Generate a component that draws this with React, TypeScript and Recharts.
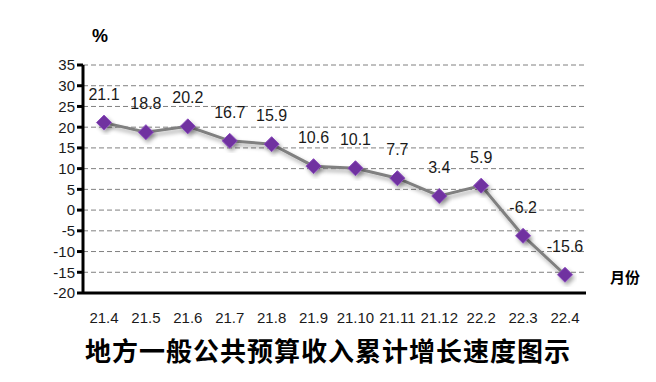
import { LineChart, Line, XAxis, YAxis, CartesianGrid, LabelList } from 'recharts'

const months = ['21.4', '21.5', '21.6', '21.7', '21.8', '21.9', '21.10', '21.11', '21.12', '22.2', '22.3', '22.4']
const growth = [21.1, 18.8, 20.2, 16.7, 15.9, 10.6, 10.1, 7.7, 3.4, 5.9, -6.2, -15.6]
const yTicks = [-20, -15, -10, -5, 0, 5, 10, 15, 20, 25, 30, 35]

const data = months.map((m, i) => ({ month: m, value: growth[i] }))

const FONT = '"Liberation Sans", Arial, sans-serif'

// purple diamond marker
const Diamond = (props: any) => {
  const { cx, cy } = props
  if (cx == null || cy == null) return null
  const r = 7.5
  return (
    <polygon
      key={`d-${cx}`}
      points={`${cx},${cy - r} ${cx + r},${cy} ${cx},${cy + r} ${cx - r},${cy}`}
      fill="#7030A0"
      stroke="#8a4cbc"
      strokeWidth={1}
      filter="url(#shadow)"
    />
  )
}

export default function App() {
  return (
    <div style={{ position: 'fixed', left: 0, top: 0, width: 656, height: 382, background: '#fff' }}>
      <LineChart width={656} height={382} data={data} margin={{ top: 65, right: 70, bottom: 59, left: 0 }}>
        <defs>
          <filter id="shadow" x="-30%" y="-30%" width="160%" height="160%">
            <feDropShadow dx="2" dy="3" stdDeviation="2" floodColor="#000" floodOpacity="0.35" />
          </filter>
        </defs>
        <CartesianGrid vertical={false} stroke="#808080" strokeDasharray="5 3" />
        <XAxis
          dataKey="month"
          height={30}
          padding={{ left: 21, right: 21 }}
          axisLine={{ stroke: '#000', strokeWidth: 3 }}
          tickLine={false}
          tick={{ fill: '#1a1a1a', fontSize: 15, fontFamily: FONT }}
          tickMargin={13}
          interval={0}
        />
        <YAxis
          width={83}
          domain={[-20, 35]}
          ticks={yTicks}
          interval={0}
          axisLine={{ stroke: '#000', strokeWidth: 3 }}
          tickLine={{ stroke: '#000', strokeWidth: 3 }}
          tickSize={6}
          tick={{ fill: '#1a1a1a', fontSize: 15, fontFamily: FONT }}
        />
        <Line
          type="linear"
          dataKey="value"
          stroke="#808080"
          strokeWidth={3}
          dot={<Diamond />}
          activeDot={false}
          filter="url(#shadow)"
          isAnimationActive={false}
        >
          <LabelList
            dataKey="value"
            position="top"
            offset={23}
            style={{ fill: '#1a1a1a', fontSize: 16, fontFamily: FONT }}
          />
        </Line>
      </LineChart>
      <div
        style={{
          position: 'absolute',
          left: 92,
          top: 26,
          fontFamily: FONT,
          fontWeight: 'bold',
          fontSize: 18,
          color: '#000',
        }}
      >
        %
      </div>
      <div
        style={{
          position: 'absolute',
          left: 610,
          top: 266,
          fontFamily: '"Noto Sans CJK SC", sans-serif',
          fontWeight: 'bold',
          fontSize: 15,
          color: '#000',
        }}
      >
        月份
      </div>
      <div
        style={{
          position: 'absolute',
          left: 0,
          width: 656,
          top: 331,
          textAlign: 'center',
          fontFamily: '"Noto Sans CJK SC", sans-serif',
          fontWeight: 'bold',
          fontSize: 26,
          color: '#000',
          letterSpacing: 1,
        }}
      >
        地方一般公共预算收入累计增长速度图示
      </div>
    </div>
  )
}
